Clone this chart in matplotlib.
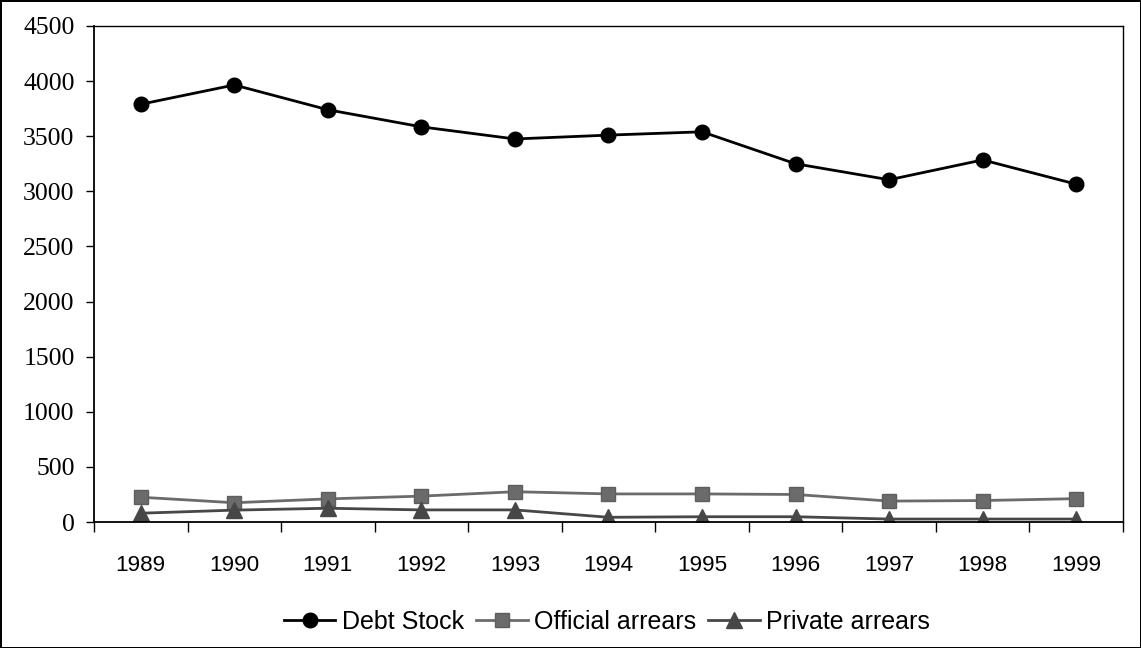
import numpy as np
import matplotlib.pyplot as plt
from matplotlib.ticker import FixedLocator

# Series par année
years = ['1989', '1990', '1991', '1992', '1993', '1994', '1995', '1996', '1997', '1998', '1999']
debt_stock = [3790, 3965, 3740, 3585, 3475, 3510, 3540, 3250, 3105, 3285, 3065]
official_arrears = [225, 175, 210, 235, 275, 255, 255, 250, 190, 195, 212]
private_arrears = [80, 108, 125, 110, 110, 43, 48, 48, 27, 27, 27]

fig = plt.figure(figsize=(11.41, 6.48), dpi=100)
fig.patch.set_edgecolor('black')
fig.patch.set_linewidth(1.0)
ax = fig.add_axes([0.0824, 0.1944, 0.9018, 0.7655])

x = np.arange(len(years))
ax.plot(x, debt_stock, color='black', lw=2, marker='o', ms=10.5, label='Debt Stock')
ax.plot(x, official_arrears, color='#6b6b6b', lw=2, marker='s', ms=10,
        mec='#5e5e5e', mfc='#6b6b6b', label='Official arrears')
ax.plot(x, private_arrears, color='#474747', lw=2, marker='^', ms=11,
        mec='#474747', mfc='#474747', label='Private arrears')

ax.set_xlim(-0.5, len(years) - 0.5)
ax.set_ylim(0, 4500)
ax.set_yticks(np.arange(0, 4501, 500))

# labels au centre, petits traits aux limites des catégories
ax.set_xticks(x)
ax.set_xticklabels(years, family='Liberation Sans', fontsize=16.2)
ax.xaxis.set_minor_locator(FixedLocator(np.arange(-0.5, len(years), 1)))
ax.tick_params(axis='x', which='major', length=0, pad=24)
ax.tick_params(axis='x', which='minor', length=7, width=1, direction='out')
ax.tick_params(axis='y', length=6, width=1, direction='out', pad=8)
for lab in ax.get_yticklabels():
    lab.set_family('Liberation Serif')
    lab.set_fontsize(18.5)

for side in ['left', 'bottom']:
    ax.spines[side].set_linewidth(1.3)
for side in ['top', 'right']:
    ax.spines[side].set_linewidth(1)

ax.legend(loc='center', bbox_to_anchor=(0.532, 0.040), bbox_transform=fig.transFigure,
          ncol=3, frameon=False, handlelength=2.05, handletextpad=0.25,
          columnspacing=0.5, prop={'family': 'Liberation Sans', 'size': 18})

fig.savefig('out.png', dpi=100, edgecolor=fig.get_edgecolor())
